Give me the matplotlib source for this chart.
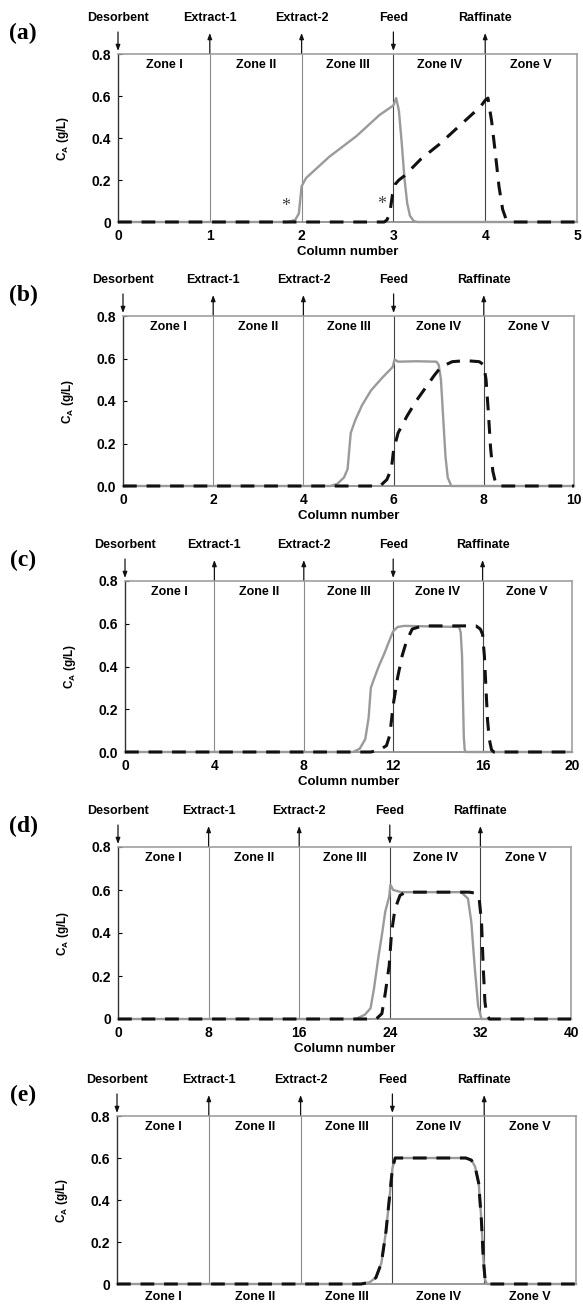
import matplotlib
matplotlib.use('Agg')
import matplotlib.pyplot as plt

plt.rcParams['font.family'] = 'Liberation Sans'
plt.rcParams['font.weight'] = 'bold'
plt.rcParams['axes.labelweight'] = 'bold'
plt.rcParams['mathtext.fontset'] = 'custom'
plt.rcParams['mathtext.rm'] = 'Liberation Sans:bold'
plt.rcParams['mathtext.it'] = 'Liberation Sans:bold'
plt.rcParams['mathtext.bf'] = 'Liberation Sans:bold'

ports = ['Desorbent', 'Extract-1', 'Extract-2', 'Feed', 'Raffinate']
port_flow = ['in', 'out', 'out', 'in', 'out']
zones = ['Zone I', 'Zone II', 'Zone III', 'Zone IV', 'Zone V']
tags = ['(a)', '(b)', '(c)', '(d)', '(e)']
cols_per_zone = [1, 2, 4, 8, 1]
zero_label = ['0', '0.0', '0.0', '0', '0']
y_ticks = [0, 0.2, 0.4, 0.6, 0.8]

# (a) 1 column per zone
a_x_gray = [0, 1.85, 1.93, 1.97, 2.0, 2.05, 2.15, 2.3, 2.45, 2.6, 2.75, 2.85, 2.95, 3.0, 3.03,
            3.06, 3.09, 3.12, 3.15, 3.18, 3.22, 3.26, 5]
a_y_gray = [0, 0, 0.01, 0.04, 0.17, 0.21, 0.25, 0.31, 0.36, 0.41, 0.47, 0.51, 0.54, 0.555, 0.59,
            0.53, 0.38, 0.21, 0.09, 0.03, 0.005, 0, 0]
a_x_dash = [0, 2.9, 2.93, 2.96, 2.99, 3.02, 3.06, 3.12, 3.3, 3.5, 3.7, 3.85, 3.95, 4.0, 4.03,
            4.07, 4.11, 4.15, 4.19, 4.23, 4.28, 5]
a_y_dash = [0, 0, 0.01, 0.04, 0.13, 0.18, 0.2, 0.22, 0.3, 0.37, 0.45, 0.51, 0.55, 0.58, 0.59,
            0.48, 0.33, 0.17, 0.06, 0.01, 0, 0]

# (b) 2 columns per zone
b_x_gray = [0, 4.6, 4.75, 4.9, 4.98, 5.05, 5.15, 5.3, 5.5, 5.75, 5.98, 6.02, 6.1, 6.5, 6.95,
            7.0, 7.05, 7.1, 7.15, 7.2, 7.28, 10]
b_y_gray = [0, 0, 0.01, 0.04, 0.08, 0.25, 0.31, 0.38, 0.45, 0.51, 0.56, 0.595, 0.585, 0.587, 0.585,
            0.57, 0.5, 0.32, 0.14, 0.04, 0, 0]
b_x_dash = [0, 5.7, 5.85, 5.95, 6.0, 6.1, 6.3, 6.5, 6.7, 6.9, 7.05, 7.3, 7.6, 7.9, 8.0,
            8.05, 8.1, 8.15, 8.2, 8.26, 8.32, 10]
b_y_dash = [0, 0, 0.03, 0.08, 0.17, 0.25, 0.33, 0.4, 0.46, 0.52, 0.56, 0.585, 0.59, 0.585, 0.57,
            0.5, 0.35, 0.18, 0.07, 0.015, 0, 0]

# (c) 4 columns per zone
c_x_gray = [0, 10.2, 10.5, 10.75, 10.9, 11.0, 11.1, 11.35, 11.6, 11.9, 12.0, 12.2, 12.5, 14.95,
            15.02, 15.08, 15.12, 15.16, 15.2, 15.25, 20]
c_y_gray = [0, 0, 0.015, 0.06, 0.16, 0.3, 0.33, 0.4, 0.46, 0.54, 0.565, 0.585, 0.59, 0.585,
            0.56, 0.45, 0.25, 0.07, 0.01, 0, 0]
c_x_dash = [0, 11.0, 11.4, 11.7, 11.85, 12.0, 12.2, 12.4, 12.6, 12.85, 13.3, 15.7, 15.9, 16.0,
            16.08, 16.15, 16.22, 16.3, 16.4, 16.5, 20]
c_y_dash = [0, 0, 0.01, 0.03, 0.08, 0.22, 0.35, 0.45, 0.52, 0.575, 0.59, 0.59, 0.575, 0.55,
            0.45, 0.3, 0.15, 0.06, 0.01, 0, 0]

# (d) 8 columns per zone
d_x_gray = [0, 21.0, 21.8, 22.3, 22.6, 23.0, 23.3, 23.6, 23.95, 24.05, 24.3, 25.0, 30.3, 30.9,
            31.2, 31.5, 31.8, 32.1, 40]
d_y_gray = [0, 0, 0.02, 0.05, 0.14, 0.29, 0.39, 0.5, 0.57, 0.625, 0.6, 0.59, 0.59, 0.56,
            0.45, 0.24, 0.06, 0, 0]
d_x_dash = [0, 22.8, 23.3, 23.6, 23.95, 24.15, 24.45, 24.9, 25.4, 31.0, 31.6, 31.9, 32.1, 32.25,
            32.4, 32.55, 32.8, 40]
d_y_dash = [0, 0, 0.025, 0.12, 0.25, 0.4, 0.51, 0.575, 0.59, 0.59, 0.585, 0.555, 0.45, 0.24,
            0.08, 0.02, 0, 0]

# (e) zone axis
e_x_gray = [0, 2.65, 2.75, 2.82, 2.88, 2.93, 2.97, 3.0, 3.03, 3.8, 3.86, 3.9, 3.94, 3.97, 3.99,
            4.01, 4.03, 5]
e_y_gray = [0, 0, 0.008, 0.03, 0.1, 0.25, 0.42, 0.55, 0.6, 0.6, 0.59, 0.56, 0.48, 0.3, 0.12,
            0.02, 0, 0]
e_x_dash = [0, 2.66, 2.75, 2.82, 2.88, 2.93, 2.97, 3.0, 3.03, 3.8, 3.86, 3.9, 3.94, 3.97, 3.99,
            4.01, 4.03, 5]
e_y_dash = [0, 0, 0.008, 0.03, 0.1, 0.25, 0.42, 0.55, 0.6, 0.6, 0.59, 0.56, 0.48, 0.3, 0.12,
            0.02, 0, 0]

curves = [
    (a_x_gray, a_y_gray, a_x_dash, a_y_dash),
    (b_x_gray, b_y_gray, b_x_dash, b_y_dash),
    (c_x_gray, c_y_gray, c_x_dash, c_y_dash),
    (d_x_gray, d_y_gray, d_x_dash, d_y_dash),
    (e_x_gray, e_y_gray, e_x_dash, e_y_dash),
]

# asterisks marking the front onsets in (a)
star_x = [1.83, 2.87]
star_y = [0.075, 0.085]

W, H = 583, 1306
# axes boxes in pixels: left, right, top, bottom
boxes = [
    (118, 577, 54, 222),
    (123, 574, 316, 486),
    (125, 572, 581, 752),
    (118, 571, 847, 1019),
    (117, 576, 1116, 1284),
]

fig = plt.figure(figsize=(W / 100, H / 100), dpi=100)

for i, (l, r, t, b) in enumerate(boxes):
    ax = fig.add_axes([l / W, 1 - b / H, (r - l) / W, (b - t) / H])
    h = b - t
    cpz = cols_per_zone[i]
    xmax = 5 * cpz
    xg, yg, xd, yd = curves[i]

    ax.set_xlim(0, xmax)
    ax.set_ylim(0, 0.8)

    for k in range(1, 5):
        col = '#8a8a8a' if k in (1, 2) else '#444444'
        ax.axvline(k * cpz, color=col, lw=0.8, zorder=1)

    ax.plot(xg, yg, color='#9a9a9a', lw=1.7, clip_on=False, zorder=3)
    ax.plot(xd, yd, color='#111111', lw=2.2, dashes=(4.5, 3.2), clip_on=False, zorder=4)

    for s in ['top', 'right']:
        ax.spines[s].set_color('#a0a0a0')
        ax.spines[s].set_linewidth(1.2)
    ax.spines['left'].set_color('#333333')
    ax.spines['left'].set_linewidth(1.0)
    ax.spines['bottom'].set_color('#888888')
    ax.spines['bottom'].set_linewidth(1.2)

    ax.set_yticks(y_ticks)
    ax.set_yticklabels([zero_label[i], '0.2', '0.4', '0.6', '0.8'], fontsize=10)
    ax.tick_params(axis='y', direction='in', length=3, width=0.8, pad=5)
    ax.set_ylabel('C$_{A}$ (g/L)', fontsize=8.5, fontweight='bold')
    ax.yaxis.set_label_coords(-47 / (r - l), 0.5)

    if i < 4:
        ax.set_xticks([k * cpz for k in range(6)])
        ax.set_xticklabels([str(k * cpz) for k in range(6)], fontsize=10)
        ax.tick_params(axis='x', length=0, pad=5)
        ax.set_xlabel('Column number', fontsize=9.5, fontweight='bold', labelpad=2)
    else:
        ax.set_xticks([])
        for k, z in enumerate(zones):
            ax.text((k + 0.5) * cpz, -13 / h, z, transform=ax.get_xaxis_transform(),
                    ha='center', va='center', fontsize=9, clip_on=False)

    trans = ax.get_xaxis_transform()
    for k, (name, flow) in enumerate(zip(ports, port_flow)):
        x = k * cpz
        if flow == 'in':
            head, tail = 1 + 3 / h, 1 + 22 / h
        else:
            head, tail = 1 + 21 / h, 1 + 1 / h
        ax.annotate('', xy=(x, head), xytext=(x, tail), xycoords=trans, textcoords=trans,
                    arrowprops=dict(arrowstyle='-|>,head_length=0.35,head_width=0.13',
                                    color='#111111', lw=0.9, shrinkA=0, shrinkB=0),
                    annotation_clip=False)
        ax.text(x, 1 + 36 / h, name, transform=trans, ha='center', va='center',
                fontsize=9, clip_on=False)

    for k, z in enumerate(zones):
        ax.text((k + 0.5) * cpz, 1 - 11 / h, z, transform=trans, ha='center', va='center',
                fontsize=9)

    if i == 0:
        for sx, sy in zip(star_x, star_y):
            ax.text(sx, sy, '*', ha='center', va='center', fontsize=13, color='#444444',
                    family='Liberation Serif', fontweight='normal')

    fig.text(23 / W, 1 - (t - 21) / H, tags[i], ha='center', va='center', fontsize=17,
             family='Liberation Serif', fontweight='bold')

fig.savefig('out.png', dpi=100)
